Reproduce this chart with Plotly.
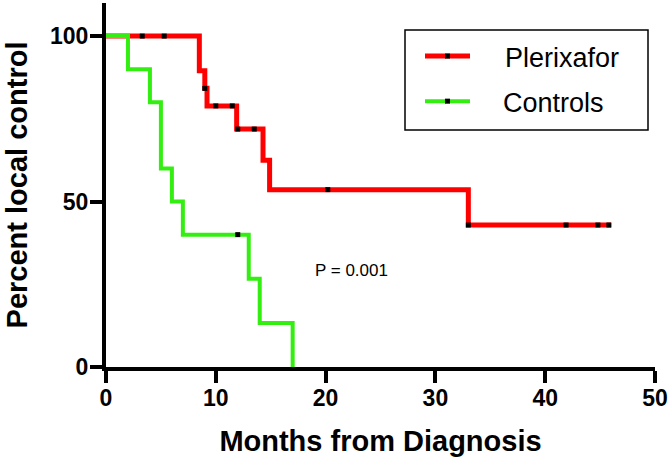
import plotly.graph_objects as go

# Kaplan-Meier step data (months, percent)
plerixafor_t = [0, 8.5, 9.0, 9.2, 11.9, 14.3, 14.9, 33.0, 46.0]
plerixafor_s = [100, 89.5, 84.2, 78.9, 71.9, 62.5, 53.6, 42.9, 42.9]
plerixafor_cens_t = [3.3, 5.3, 9.0, 10.0, 11.5, 12.0, 13.5, 20.2, 33.0, 41.9, 44.8, 45.8]
plerixafor_cens_s = [100, 100, 84.2, 78.9, 78.9, 71.9, 71.9, 53.6, 42.9, 42.9, 42.9, 42.9]

controls_t = [0, 2, 4, 5, 6, 7, 13, 14, 17]
controls_s = [100, 90, 80, 60, 50, 40, 26.7, 13.3, 0]
controls_cens_t = [12.0]
controls_cens_s = [40]

series_names = ["Plerixafor", "Controls"]
x_ticks = [0, 10, 20, 30, 40, 50]
y_ticks = [0, 50, 100]
p_text = "P = 0.001"

RED = "#ff0000"
GREEN = "#33ee11"
NB = "\u00a0"

fig = go.Figure()

fig.add_trace(go.Scatter(x=plerixafor_t, y=plerixafor_s, mode="lines", line_shape="hv",
                         line=dict(color=RED, width=5), showlegend=False, cliponaxis=False))
fig.add_trace(go.Scatter(x=controls_t, y=controls_s, mode="lines", line_shape="hv",
                         line=dict(color=GREEN, width=4), showlegend=False, cliponaxis=False))
fig.add_trace(go.Scatter(x=plerixafor_cens_t, y=plerixafor_cens_s, mode="markers",
                         marker=dict(symbol="square", size=5, color="black"),
                         showlegend=False, cliponaxis=False))
fig.add_trace(go.Scatter(x=controls_cens_t, y=controls_cens_s, mode="markers",
                         marker=dict(symbol="square", size=5, color="black"),
                         showlegend=False, cliponaxis=False))

# legend entries
fig.add_trace(go.Scatter(x=[None], y=[None], mode="lines+markers", name=NB * 4 + series_names[0],
                         line=dict(color=RED, width=5), legendgroup="a",
                         marker=dict(symbol="square", size=5, color="black")))
fig.add_trace(go.Scatter(x=[None], y=[None], mode="lines+markers",
                         name=NB * 3 + "\u2009" + series_names[1],
                         line=dict(color=GREEN, width=4), legendgroup="b",
                         marker=dict(symbol="square", size=5, color="black")))

fig.add_annotation(x=22.4, y=29.2, text=p_text, showarrow=False,
                   font=dict(family="Liberation Sans, Arial, sans-serif", size=17, color="black"))

# legend box
fig.add_shape(type="rect", xref="paper", yref="paper",
              x0=(405 - 106) / 549, x1=(648 - 106) / 549,
              y0=(367 - 130) / 364, y1=(367 - 30) / 364,
              line=dict(color="black", width=1.5), fillcolor="rgba(0,0,0,0)")

tick_font = dict(family="Liberation Sans, Arial, sans-serif", size=23, color="black", weight="bold")
title_font = dict(family="Liberation Sans, Arial, sans-serif", size=29, color="black", weight="bold")

fig.update_layout(
    width=670, height=462,
    margin=dict(l=106, r=15, t=3, b=95, autoexpand=False),
    paper_bgcolor="white", plot_bgcolor="white",
    showlegend=True,
    legend=dict(x=(420 - 106) / 549, y=(367 - 32) / 364, xanchor="left", yanchor="top",
                bgcolor="rgba(0,0,0,0)", borderwidth=0, tracegroupgap=7, itemwidth=45,
                font=dict(family="Liberation Sans, Arial, sans-serif", size=27, color="black")),
    xaxis=dict(range=[0, 50], tickvals=x_ticks, ticktext=[str(v) for v in x_ticks],
               showline=True, linecolor="black", linewidth=4, ticks="outside",
               ticklen=12, tickwidth=4, tickcolor="black", showgrid=False, zeroline=False,
               tickfont=tick_font, automargin=False, ticklabelstandoff=-5,
               title=dict(text="Months from Diagnosis", font=title_font, standoff=22)),
    yaxis=dict(range=[0, 110], tickvals=y_ticks, ticktext=[str(v) for v in y_ticks],
               showline=True, linecolor="black", linewidth=4, ticks="outside",
               ticklen=12, tickwidth=4, tickcolor="black", showgrid=False, zeroline=False,
               tickfont=tick_font, automargin=False, ticklabelstandoff=-3,
               title=dict(text="Percent local control", font=title_font, standoff=15)),
)

fig.write_html("out.html", config={"displayModeBar": False},
               post_script="document.body.style.margin='0px';")
